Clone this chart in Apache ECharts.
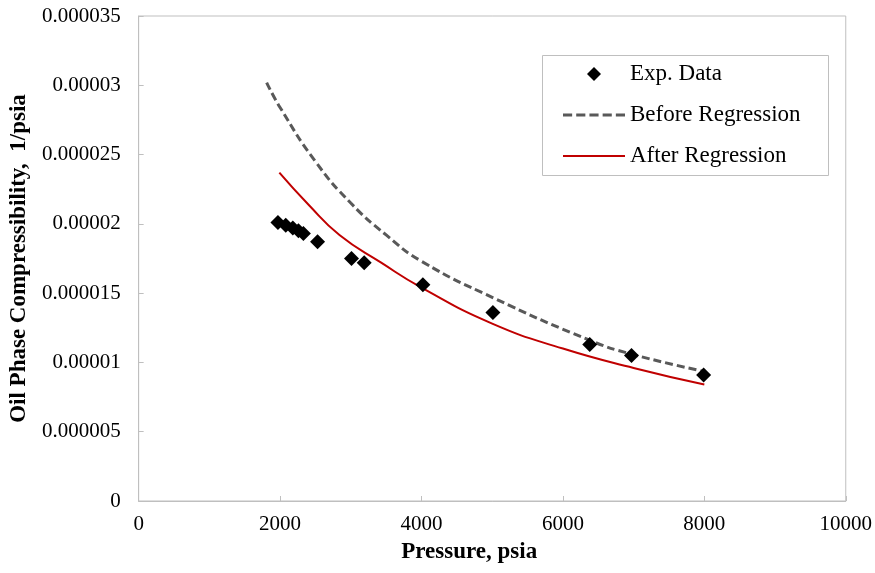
<!DOCTYPE html>
<html>
<head>
<meta charset="utf-8">
<script src="https://cdn.jsdelivr.net/npm/echarts@6/dist/echarts.min.js"></script>
<style>html,body{margin:0;padding:0;background:#fff}#c{width:875px;height:573px}</style>
</head>
<body>
<div id="c"></div>
<script>
// values in units of 1e-6 1/psia
const expPressure = [1970, 2080, 2180, 2260, 2330, 2530, 3010, 3190, 4020, 5010, 6380, 6970, 7990];
const expCompr    = [20.1, 19.9, 19.7, 19.5, 19.3, 18.7, 17.5, 17.2, 15.6, 13.6, 11.3, 10.5, 9.1];
const beforePressure = [1810, 2000, 2500, 3000, 3500, 4000, 5000, 6380, 6970, 8000];
const beforeCompr    = [30.2, 28.4, 24.5, 21.5, 19.2, 17.3, 14.7, 11.6, 10.6, 9.35];
const afterPressure = [1990, 2400, 2840, 3430, 4000, 5000, 6000, 7000, 8000];
const afterCompr    = [23.7, 21.4, 19.2, 17.2, 15.4, 12.8, 11.0, 9.6, 8.4];
const xTicks = [0, 2000, 4000, 6000, 8000, 10000];
const yTickLabels = ['0', '0.000005', '0.00001', '0.000015', '0.00002', '0.000025', '0.00003', '0.000035'];

const zip = (a, b) => a.map((v, i) => [v, b[i]]);
const serif = '"Liberation Serif", "Times New Roman", serif';

const chart = echarts.init(document.getElementById('c'), null, {renderer: 'canvas'});
chart.setOption({
  animation: false,
  backgroundColor: '#fff',
  textStyle: {fontFamily: serif},
  grid: {left: 136, right: 27, top: 16, bottom: 72, show: true, borderColor: '#bfbfbf', borderWidth: 1},
  xAxis: {
    type: 'value', min: xTicks[0], max: xTicks[xTicks.length - 1], interval: 2000,
    name: 'Pressure, psia', nameLocation: 'middle', nameGap: 40,
    nameTextStyle: {fontFamily: serif, fontSize: 23, fontWeight: 'bold', color: '#000', padding: [0, 46, 0, 0]},
    axisLine: {lineStyle: {color: '#bfbfbf'}},
    axisTick: {inside: true, length: 5, lineStyle: {color: '#bfbfbf'}},
    axisLabel: {fontFamily: serif, fontSize: 21, color: '#000', margin: 13, formatter: v => String(v)},
    splitLine: {show: false}
  },
  yAxis: {
    type: 'value', min: 0, max: 35, interval: 5,
    name: 'Oil Phase Compressibility,  1/psia', nameLocation: 'middle', nameGap: 100,
    nameTextStyle: {fontFamily: serif, fontSize: 23, fontWeight: 'bold', color: '#000'},
    axisLine: {show: true, lineStyle: {color: '#bfbfbf'}},
    axisTick: {show: true, inside: true, length: 5, lineStyle: {color: '#bfbfbf'}},
    axisLabel: {fontFamily: serif, fontSize: 21, color: '#000', margin: 18,
      formatter: v => yTickLabels[Math.round(v / 5)]},
    splitLine: {show: false}
  },
  graphic: [{
    type: 'rect', left: 540, top: 53, shape: {width: 286, height: 120},
    style: {fill: 'none', stroke: '#bfbfbf', lineWidth: 1}, z: 5
  }],
  legend: {
    orient: 'vertical', left: 563, top: 61, padding: 0, itemWidth: 62, itemHeight: 14, itemGap: 15,
    symbolKeepAspect: true,
    textStyle: {fontFamily: serif, fontSize: 23, color: '#000', lineHeight: 26},
    data: [
      {name: 'Exp. Data', icon: 'path://M7,0L14,7L7,14L0,7Z'},
      {name: 'Before Regression', icon: 'path://M0,0h9v3h-9zM13,0h9v3h-9zM26,0h9v3h-9zM39,0h9v3h-9zM52,0h9v3h-9z'},
      {name: 'After Regression', icon: 'path://M0,0h62v2h-62z'}
    ]
  },
  series: [
    {
      name: 'Before Regression', type: 'line', smooth: 0.5, symbol: 'none',
      data: zip(beforePressure, beforeCompr),
      lineStyle: {color: '#595959', width: 3, type: [8, 4]},
      itemStyle: {color: '#595959'}, z: 2
    },
    {
      name: 'After Regression', type: 'line', smooth: 0.5, symbol: 'none',
      data: zip(afterPressure, afterCompr),
      lineStyle: {color: '#c00000', width: 2},
      itemStyle: {color: '#c00000'}, z: 3
    },
    {
      name: 'Exp. Data', type: 'scatter', symbol: 'diamond', symbolSize: 15,
      data: zip(expPressure, expCompr),
      itemStyle: {color: '#000', opacity: 1}, z: 4
    }
  ]
});
</script>
</body>
</html>
